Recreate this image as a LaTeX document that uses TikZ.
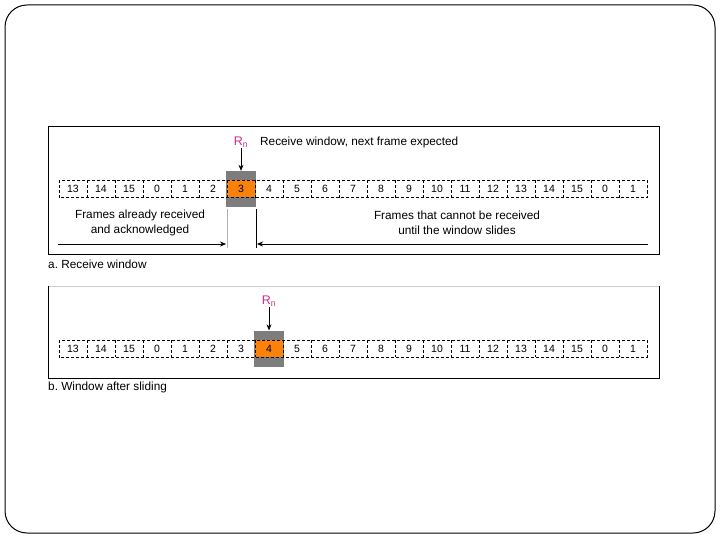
\documentclass[tikz,border=0pt]{standalone}
\usepackage{fontspec}
\setmainfont{Liberation Sans}
\usetikzlibrary{arrows.meta}
\frenchspacing
\definecolor{winorange}{RGB}{250,130,10}
\definecolor{wingray}{RGB}{125,125,125}
\definecolor{rnpink}{RGB}{205,45,140}
\tikzset{
  cell/.style={minimum width=28pt, minimum height=17pt, inner sep=0pt, font=\fontsize{10.5}{12}\selectfont},
  dashline/.style={dashed, dash pattern=on 3pt off 2pt, line width=0.5pt},
  lbl/.style={font=\fontsize{11.8}{15}\selectfont, inner sep=0pt},
  rnlbl/.style={font=\fontsize{12.5}{13}\selectfont, text=rnpink, inner sep=1pt},
  arr/.style={-{Stealth[length=6pt,width=5pt]}, line width=0.6pt},
  panel/.style={line width=0.8pt}
}
\begin{document}
\begin{tikzpicture}[x=1pt,y=-1pt]
\useasboundingbox (0,0) rectangle (720,540);
\draw[rounded corners=22pt, line width=1pt] (5,5) rectangle (715,533);

% ---------- panel a ----------
\draw[panel] (48,126) rectangle (659,254);
\node[fill=wingray, minimum width=30pt, minimum height=36pt, inner sep=0pt] (gwa) at (241,189) {};
\foreach \lab [count=\i from 0] in {13,14,15,0,1,2,3,4,5,6,7,8,9,10,11,12,13,14,15,0,1}{
  \node[cell] (a\i) at (73+28*\i,189) {\lab};
}
\node[cell, fill=winorange] at (a6) {3};
\draw[dashline] (a0.north west) rectangle (a20.south east);
\foreach \i in {0,...,19}{ \draw[dashline] (a\i.north east) -- (a\i.south east); }
\node[rnlbl] (rna) at (241,142) {R\textsubscript{n}};
\draw[arr] (rna) -- (gwa.north);
\node[lbl, anchor=west] (rwa) at (260,142) {Receive window, next frame expected};
\node[lbl, align=center] (fa) at (140,223) {Frames already received\\and acknowledged};
\node[lbl, align=center] (fb) at (457,223) {Frames that cannot be received\\until the window slides};
\coordinate (la1) at (58,244);
\coordinate (la2) at (226,244);
\coordinate (ra1) at (648,244);
\coordinate (ra2) at (257,244);
\coordinate (v1t) at (227,209);
\coordinate (v1b) at (227,248);
\coordinate (v2t) at (256,209);
\coordinate (v2b) at (256,248);
\draw[arr] (la1) -- (la2);
\draw[arr] (ra1) -- (ra2);
\draw[line width=0.6pt, gray!60] (v1t) -- (v1b);
\draw[line width=0.6pt] (v2t) -- (v2b);
\node[lbl, anchor=west] (capa) at (48,264) {a. Receive window};

% ---------- panel b ----------
\draw[panel, gray!40] (48,286) -- (659,286);
\draw[panel] (659,286) -- (659,378) -- (48,378) -- (48,286);
\node[fill=wingray, minimum width=30pt, minimum height=36pt, inner sep=0pt] (gwb) at (269,348.5) {};
\foreach \lab [count=\i from 0] in {13,14,15,0,1,2,3,4,5,6,7,8,9,10,11,12,13,14,15,0,1}{
  \node[cell] (b\i) at (73+28*\i,348.5) {\lab};
}
\node[cell, fill=winorange] at (b7) {4};
\draw[dashline] (b0.north west) rectangle (b20.south east);
\foreach \i in {0,...,19}{ \draw[dashline] (b\i.north east) -- (b\i.south east); }
\node[rnlbl] (rnb) at (269,301) {R\textsubscript{n}};
\draw[arr] (rnb) -- (gwb.north);
\node[lbl, anchor=west] (capb) at (48,387) {b. Window after sliding};
\end{tikzpicture}
\end{document}
